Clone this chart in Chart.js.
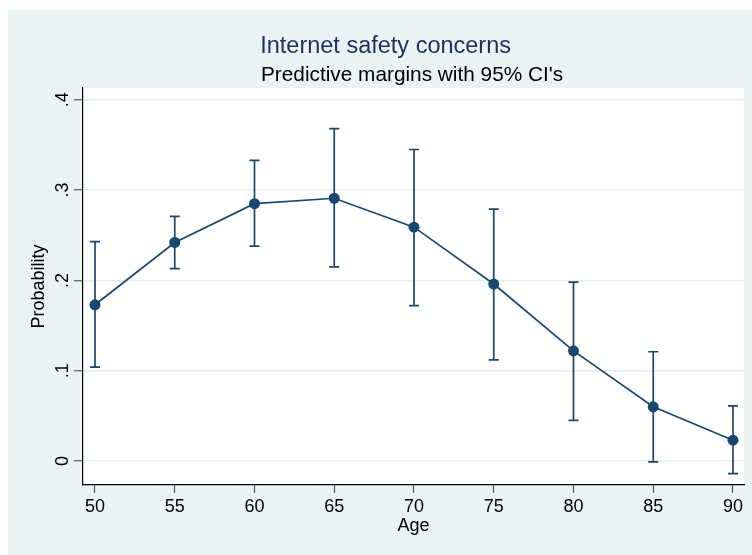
<!DOCTYPE html>
<html>
<head>
<meta charset="utf-8">
<script src="https://cdn.jsdelivr.net/npm/chart.js@4.4.0/dist/chart.umd.min.js"></script>
<style>
  html, body { margin: 0; padding: 0; background: #ffffff; }
  #wrap { position: absolute; left: 8px; top: 10px; width: 744px; height: 545px; }
</style>
</head>
<body>
<div id="wrap"><canvas id="c"></canvas></div>
<script>
const titleText = 'Internet safety concerns';
const subtitleText = "Predictive margins with 95% CI's";
const ages = [50, 55, 60, 65, 70, 75, 80, 85, 90];
const margins = [0.173, 0.242, 0.285, 0.291, 0.259, 0.196, 0.122, 0.060, 0.023];
const ciLower = [0.104, 0.213, 0.238, 0.215, 0.172, 0.112, 0.045, -0.001, -0.014];
const ciUpper = [0.243, 0.271, 0.333, 0.368, 0.345, 0.279, 0.198, 0.121, 0.061];
const xTicks = [50, 55, 60, 65, 70, 75, 80, 85, 90];
const yTicks = [0, 0.1, 0.2, 0.3, 0.4];
const yTickLabels = ['0', '.1', '.2', '.3', '.4'];

const navy = '#1a476f';
const bgBlue = '#eaf2f3';
const fontFam = "'Liberation Sans', Arial, Helvetica, sans-serif";

Chart.defaults.font.family = fontFam;
Chart.defaults.color = '#000';

const backgroundPlugin = {
  id: 'bg',
  beforeDraw(chart) {
    const {ctx, chartArea: a} = chart;
    ctx.save();
    ctx.fillStyle = bgBlue;
    ctx.fillRect(0, 0, chart.width, chart.height);
    ctx.fillStyle = '#ffffff';
    ctx.fillRect(a.left, a.top, a.right - a.left, a.bottom - a.top);
    ctx.restore();
  }
};

const titlesPlugin = {
  id: 'titles',
  afterDraw(chart) {
    const ctx = chart.ctx;
    ctx.save();
    ctx.textAlign = 'left';
    ctx.textBaseline = 'alphabetic';
    ctx.fillStyle = '#1e2f5e';
    ctx.font = '23.5px ' + fontFam;
    ctx.fillText(titleText, 252.2, 42.5);
    ctx.fillStyle = '#000000';
    ctx.font = '20.8px ' + fontFam;
    ctx.fillText(subtitleText, 253, 70.5);
    ctx.restore();
  }
};

const errorBarPlugin = {
  id: 'errbars',
  beforeDatasetsDraw(chart) {
    const ctx = chart.ctx;
    const xs = chart.scales.x, ys = chart.scales.y;
    ctx.save();
    ctx.strokeStyle = navy;
    ctx.lineWidth = 1.7;
    const cap = 5;
    for (let i = 0; i < ages.length; i++) {
      const x = xs.getPixelForValue(ages[i]);
      const yl = ys.getPixelForValue(ciLower[i]);
      const yh = ys.getPixelForValue(ciUpper[i]);
      ctx.beginPath();
      ctx.moveTo(x, yl); ctx.lineTo(x, yh);
      ctx.moveTo(x - cap, yl); ctx.lineTo(x + cap, yl);
      ctx.moveTo(x - cap, yh); ctx.lineTo(x + cap, yh);
      ctx.stroke();
    }
    ctx.restore();
  }
};

new Chart(document.getElementById('c'), {
  type: 'line',
  data: {
    datasets: [{
      label: 'Probability',
      data: ages.map((a, i) => ({x: a, y: margins[i]})),
      borderColor: navy,
      borderWidth: 1.7,
      backgroundColor: navy,
      pointRadius: 5.5,
      pointBackgroundColor: navy,
      pointBorderWidth: 0,
      tension: 0,
      fill: false
    }]
  },
  options: {
    responsive: true,
    maintainAspectRatio: false,
    animation: false,
    layout: { padding: { left: 0, right: 8, top: 78, bottom: 0 } },
    plugins: {
      legend: { display: false },
      tooltip: { enabled: false },
      title: { display: false }
    },
    scales: {
      x: {
        type: 'linear',
        min: 49.248,
        max: 90.69,
        afterBuildTicks(scale) { scale.ticks = xTicks.map(v => ({value: v})); },
        afterFit(scale) { scale.height = 70; },
        ticks: {
          font: { size: 18 },
          color: '#000',
          padding: 3,
          maxRotation: 0,
          minRotation: 0,
          callback: (v) => String(v)
        },
        grid: {
          drawOnChartArea: false,
          drawTicks: true,
          tickLength: 8,
          tickColor: '#555',
          tickWidth: 1.2
        },
        border: { display: true, color: '#000', width: 1.2 },
        title: {
          display: true,
          text: 'Age',
          font: { size: 18 },
          color: '#000',
          padding: { top: 0, bottom: 17.7 }
        }
      },
      y: {
        type: 'linear',
        min: -0.0266,
        max: 0.4131,
        afterBuildTicks(scale) { scale.ticks = yTicks.map(v => ({value: v})); },
        afterFit(scale) { scale.width = 75; },
        ticks: {
          font: { size: 18 },
          color: '#000',
          padding: 3.5,
          minRotation: 90,
          maxRotation: 90,
          crossAlign: 'center',
          callback: (v, i) => yTickLabels[i]
        },
        grid: {
          color: '#e4edf0',
          lineWidth: 1.5,
          drawTicks: true,
          tickLength: 9,
          tickColor: '#555',
          tickWidth: 1.2
        },
        border: { display: true, color: '#000', width: 1.2 },
        title: {
          display: true,
          text: 'Probability',
          font: { size: 18 },
          color: '#000',
          padding: { top: 20.4, bottom: 0 }
        }
      }
    }
  },
  plugins: [backgroundPlugin, errorBarPlugin, titlesPlugin]
});
</script>
</body>
</html>
